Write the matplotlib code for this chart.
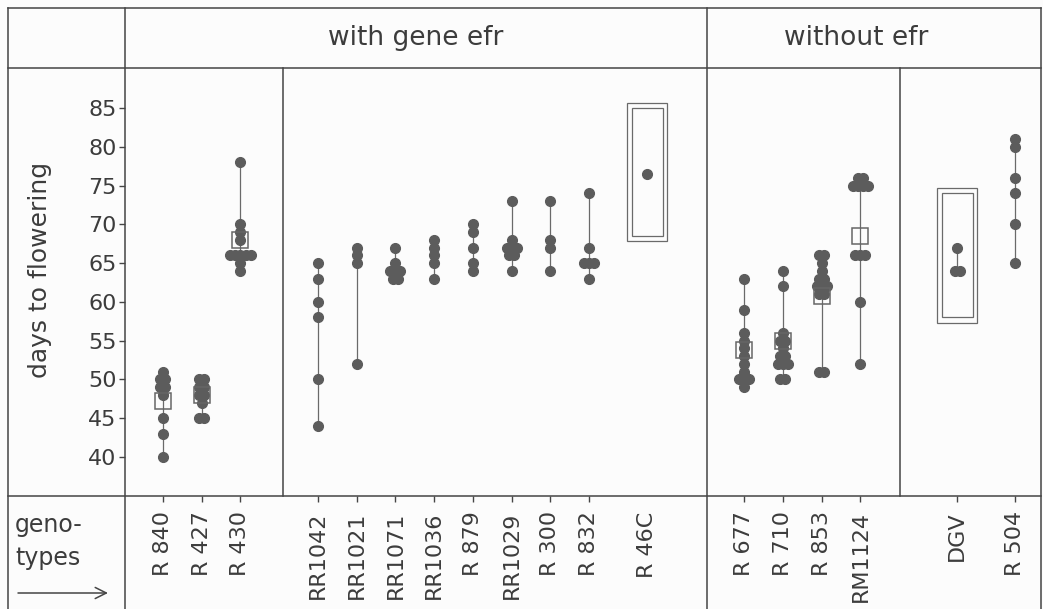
import matplotlib
matplotlib.use("Agg")
import matplotlib.pyplot as plt
from matplotlib.lines import Line2D
from matplotlib.patches import Rectangle, FancyArrowPatch
from collections import Counter

# ---------------- data ----------------
genotypes = ["R 840", "R 427", "R 430", "RR1042", "RR1021", "RR1071", "RR1036",
             "R 879", "RR1029", "R 300", "R 832", "R 46C",
             "R 677", "R 710", "R 853", "RM1124", "DGV", "R 504"]

days = [
    [51, 50, 50, 49, 49, 48, 45, 43, 40],                      # R 840
    [50, 50, 49, 49, 48, 48, 47, 45, 45],                      # R 427
    [78, 70, 69, 68, 66, 66, 66, 66, 66, 65, 64],              # R 430
    [65, 63, 60, 58, 50, 44],                                  # RR1042
    [67, 66, 65, 52],                                          # RR1021
    [67, 65, 64, 64, 64, 63, 63],                              # RR1071
    [68, 67, 66, 65, 63],                                      # RR1036
    [70, 69, 67, 65, 64],                                      # R 879
    [73, 68, 67, 67, 67, 66, 66, 64],                          # RR1029
    [73, 68, 67, 64],                                          # R 300
    [74, 67, 65, 65, 65, 63],                                  # R 832
    [76.5],                                                    # R 46C
    [63, 59, 56, 55, 54, 53, 52, 51, 50, 50, 50, 49],          # R 677
    [64, 62, 56, 55, 55, 54, 53, 53, 52, 52, 52, 50, 50],      # R 710
    [66, 66, 65, 64, 63, 63, 62, 62, 62, 61, 61, 51, 51],      # R 853
    [76, 76, 75, 75, 75, 75, 66, 66, 66, 60, 52],              # RM1124
    [67, 64, 64],                                              # DGV
    [81, 80, 76, 74, 70, 65],                                  # R 504
]

means = [47.2, 48.0, 68.0, None, None, None, None, None, None, None, None, None,
         53.8, 55.0, 60.7, 68.5, None, None]

# double-framed ranges (low, high)
box_ranges = {"R 46C": (68.5, 85.0), "DGV": (58.0, 74.0)}

header_left = "with gene efr"
header_right = "without efr"
ylabel = "days to flowering"
yticks = [40, 45, 50, 55, 60, 65, 70, 75, 80, 85]

# ---------------- layout ----------------
slots = [0, 1, 2, 4, 5, 6, 7, 8, 9, 10, 11, 12.5, 15, 16, 17, 18, 20.5, 22]
W, H = 1043, 609
def fx(px): return px / W
def fy(py): return 1 - py / H

INK = "#3c3c3c"
DOT = "#5c5c5c"
LINE = "#454545"

plt.rcParams["font.family"] = ["DejaVu Sans"]
fig = plt.figure(figsize=(W / 100, H / 100), dpi=100, facecolor="#fcfcfc")
ax = fig.add_axes([fx(125), fy(496), fx(1041) - fx(125), fy(68) - fy(496)])
ax.set_facecolor("none")
ax.set_xlim(-0.98, 22.66)
ax.set_ylim(34.97, 90.16)
for s in ax.spines.values():
    s.set_visible(False)

# data marks
step = 0.13
for x, vals, m in zip(slots, days, means):
    lo, hi = min(vals), max(vals)
    if hi > lo:
        ax.plot([x, x], [lo, hi], color="#6a6a6a", lw=0.9, zorder=2)
    cnt = Counter(vals)
    for v, n in cnt.items():
        for i in range(n):
            ax.plot(x + (i - (n - 1) / 2) * step, v, "o", ms=7.0,
                    color=DOT, mec=DOT, zorder=3)
    if m is not None:
        ax.plot(x, m, "s", ms=11.5, mfc="none", mec="#666666", mew=1.1, zorder=4)

for g, (lo, hi) in box_ranges.items():
    x = slots[genotypes.index(g)]
    ax.add_patch(Rectangle((x - 0.40, lo), 0.80, hi - lo, fill=False,
                           ec="#6a6a6a", lw=0.9, zorder=1))
    ax.add_patch(Rectangle((x - 0.52, lo - 0.7), 1.04, hi - lo + 1.4, fill=False,
                           ec="#6a6a6a", lw=0.9, zorder=1))

# ticks
ax.set_yticks(yticks)
ax.set_yticklabels([str(t) for t in yticks], fontsize=16, color=INK)
ax.tick_params(axis="y", direction="out", length=4, width=1, color=LINE, pad=2)
ax.set_xticks(slots)
ax.set_xticklabels(genotypes, rotation=90, fontsize=16, color=INK, va="top")
ax.tick_params(axis="x", direction="out", length=4, width=1, color=LINE, pad=7)
ax.xaxis.get_major_ticks()[genotypes.index("R 46C")].tick1line.set_visible(False)

# frame lines (figure pixels)
def fline(x0, y0, x1, y1):
    fig.add_artist(Line2D([fx(x0), fx(x1)], [fy(y0), fy(y1)], color=LINE, lw=1.1))

fline(8, 8, 1041, 8)
fline(8, 68, 1041, 68)
fline(8, 496, 1041, 496)
fline(8, 8, 8, 609)
fline(125, 8, 125, 609)
fline(707, 8, 707, 609)
fline(1041, 8, 1041, 609)
fline(283, 68, 283, 496)
fline(900, 68, 900, 496)

# texts
fig.text(fx(416), fy(38), header_left, fontsize=19, color=INK, ha="center", va="center")
fig.text(fx(856), fy(38), header_right, fontsize=19, color=INK, ha="center", va="center")
fig.text(fx(40), fy(270), ylabel, fontsize=18, color=INK, rotation=90,
         ha="center", va="center")
fig.text(fx(15), fy(525), "geno-", fontsize=17, color=INK, ha="left", va="center")
fig.text(fx(15), fy(558), "types", fontsize=17, color=INK, ha="left", va="center")
fig.add_artist(FancyArrowPatch(
    (fx(18), fy(593)), (fx(108), fy(593)), transform=fig.transFigure,
    arrowstyle="->,head_length=8,head_width=4", color=LINE, lw=1.1,
    mutation_scale=1, shrinkA=0, shrinkB=0))

fig.savefig("out.png", dpi=100, facecolor=fig.get_facecolor())
